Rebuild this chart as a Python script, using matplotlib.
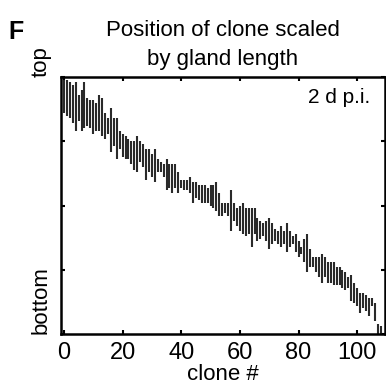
import matplotlib
matplotlib.use("Agg")
import matplotlib.pyplot as plt
import numpy as np

# Top (upper end) and bottom (lower end) of each clone's position, scaled by gland length (0 = bottom, 1 = top)
clone_top = [0.99, 0.99, 0.98, 0.97, 0.98, 0.93, 0.95, 0.98, 0.92, 0.91,
             0.91, 0.90, 0.93, 0.92, 0.86, 0.84, 0.88, 0.84, 0.84, 0.79,
             0.78, 0.77, 0.76, 0.75, 0.75, 0.77, 0.75, 0.74, 0.72, 0.72,
             0.70, 0.72, 0.68, 0.67, 0.66, 0.68, 0.66, 0.66, 0.66, 0.63,
             0.60, 0.60, 0.60, 0.61, 0.59, 0.59, 0.58, 0.58, 0.58, 0.57,
             0.58, 0.58, 0.59, 0.55, 0.51, 0.51, 0.51, 0.56, 0.51, 0.49,
             0.50, 0.51, 0.49, 0.49, 0.49, 0.49, 0.45, 0.44, 0.43, 0.44,
             0.45, 0.43, 0.41, 0.40, 0.42, 0.40, 0.43, 0.40, 0.38, 0.39,
             0.36, 0.34, 0.37, 0.39, 0.33, 0.30, 0.30, 0.30, 0.31, 0.30,
             0.28, 0.28, 0.28, 0.26, 0.26, 0.25, 0.24, 0.22, 0.23, 0.20,
             0.18, 0.16, 0.16, 0.15, 0.14, 0.14, 0.12, 0.04, 0.03]
clone_bottom = [0.86, 0.85, 0.84, 0.82, 0.79, 0.83, 0.79, 0.80, 0.81, 0.80,
                0.78, 0.79, 0.79, 0.77, 0.76, 0.78, 0.71, 0.73, 0.68, 0.72,
                0.69, 0.68, 0.68, 0.66, 0.64, 0.63, 0.67, 0.65, 0.60, 0.63,
                0.61, 0.59, 0.63, 0.63, 0.61, 0.56, 0.57, 0.55, 0.57, 0.55,
                0.57, 0.56, 0.56, 0.55, 0.51, 0.53, 0.52, 0.51, 0.51, 0.51,
                0.50, 0.49, 0.48, 0.46, 0.46, 0.47, 0.46, 0.40, 0.44, 0.42,
                0.40, 0.39, 0.38, 0.39, 0.34, 0.39, 0.36, 0.37, 0.38, 0.36,
                0.33, 0.35, 0.36, 0.35, 0.34, 0.35, 0.32, 0.34, 0.35, 0.32,
                0.30, 0.31, 0.28, 0.24, 0.26, 0.26, 0.24, 0.22, 0.20, 0.22,
                0.20, 0.20, 0.19, 0.19, 0.19, 0.18, 0.17, 0.18, 0.13, 0.12,
                0.11, 0.08, 0.10, 0.09, 0.07, 0.11, 0.05, 0.00, 0.00]
clone_num = np.arange(len(clone_top))

x_ticks = [0, 20, 40, 60, 80, 100]
y_ticks = [0, 0.25, 0.5, 0.75, 1.0]

plt.rcParams['font.family'] = ['Liberation Sans', 'DejaVu Sans']

fig = plt.figure(figsize=(3.86, 3.90), dpi=100)
ax = fig.add_axes([61/386, 1-334/390, (385-61)/386, (334-77)/390])

ax.vlines(clone_num, clone_bottom, clone_top, colors='#2a2a2a', linewidth=1.5)

ax.set_xlim(-1, 109.5)
ax.set_ylim(0, 1)
ax.set_xticks(x_ticks)
ax.set_xticklabels([str(t) for t in x_ticks], fontsize=17)
ax.set_yticks(y_ticks)
ax.set_yticklabels([])
ax.tick_params(direction='in', length=3, width=1.5, top=True, right=True, pad=6)
for s in ax.spines.values():
    s.set_linewidth(1.8)

ax.text(-0.06, 0, 'bottom', transform=ax.transAxes, rotation=90, ha='center', va='bottom', fontsize=16)
ax.text(-0.06, 1.0, 'top', transform=ax.transAxes, rotation=90, ha='center', va='bottom', fontsize=16)

ax.set_xlabel('clone #', fontsize=16, labelpad=0)
ax.set_title('Position of clone scaled\nby gland length', fontsize=16, pad=9, linespacing=1.5)
ax.text(0.955, 0.92, '2 d p.i.', transform=ax.transAxes, ha='right', va='center', fontsize=15)
fig.text(8/386, 1-32/390, 'F', fontsize=18, fontweight='bold', va='center', ha='left')

fig.savefig('out.png', dpi=100)
